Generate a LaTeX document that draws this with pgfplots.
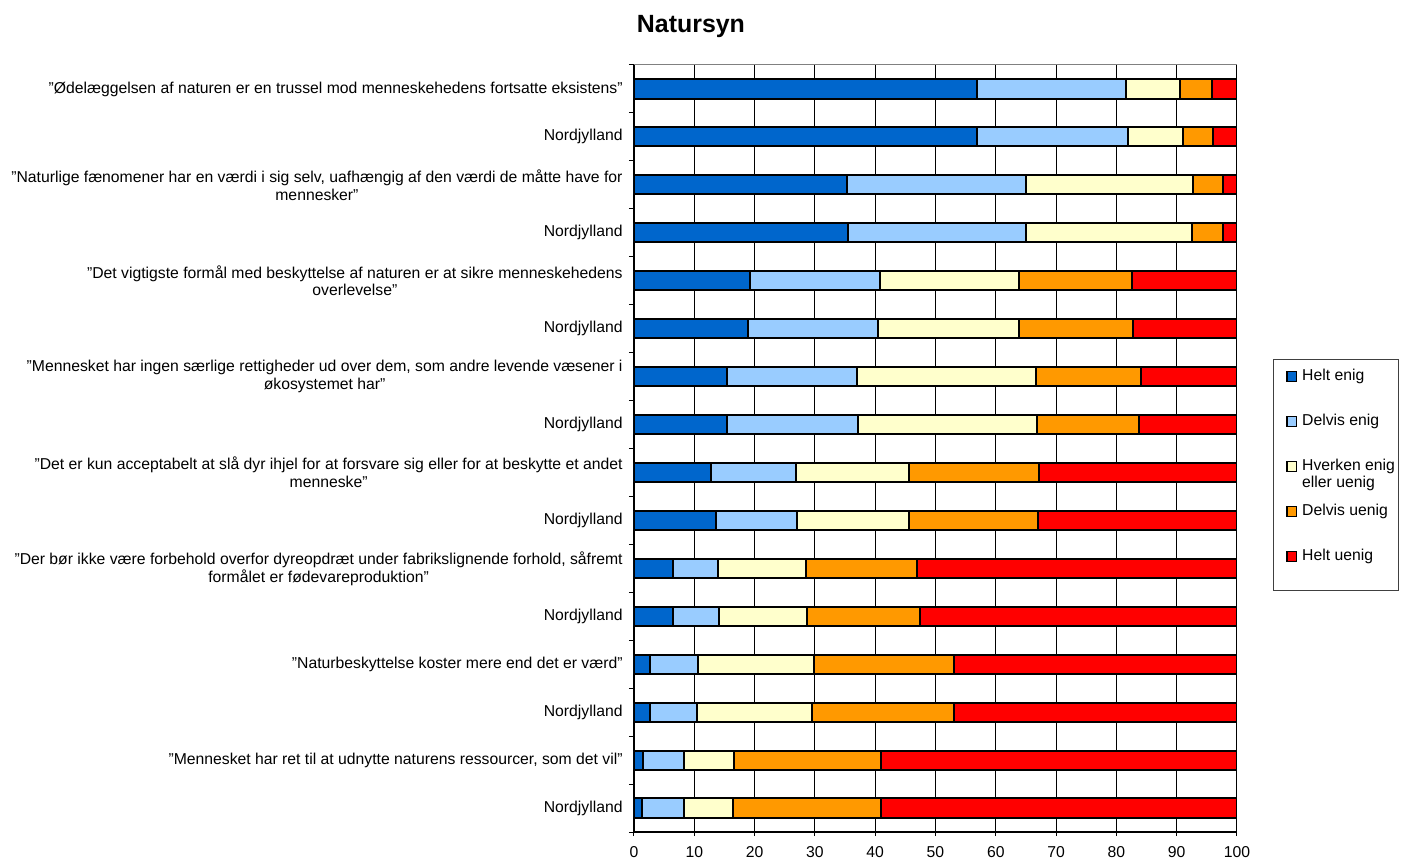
\documentclass[border=0pt]{standalone}
\usepackage{pgfplots}
\pgfplotsset{compat=1.18}
\usepackage{pgfplotstable}
\usepackage{fontspec}
\setmainfont{Liberation Sans}
\usetikzlibrary{calc}

\definecolor{c1}{HTML}{0066CC}
\definecolor{c2}{HTML}{99CCFF}
\definecolor{c3}{HTML}{FFFFCC}
\definecolor{c4}{HTML}{FF9900}
\definecolor{c5}{HTML}{FF0000}

\pgfplotstableread{
y a b c d e
15 56.8 24.8 9.0 5.3 4.1
14 56.8 25.1 9.2 5.0 3.9
13 35.3 29.7 27.7 4.9 2.4
12 35.5 29.5 27.5 5.1 2.4
11 19.2 21.6 23.1 18.7 17.4
10 18.9 21.6 23.4 18.8 17.3
9 15.5 21.5 29.7 17.4 15.9
8 15.4 21.7 29.7 17.0 16.2
7 12.8 14.0 18.8 21.6 32.8
6 13.6 13.4 18.6 21.4 33.0
5 6.4 7.6 14.6 18.4 53.0
4 6.4 7.7 14.6 18.7 52.6
3 2.6 8.0 19.2 23.3 46.9
2 2.6 7.9 19.1 23.5 46.9
1 1.5 6.8 8.3 24.3 59.1
0 1.4 6.9 8.2 24.4 59.1
}\data

\newcommand\lf{\fontsize{7.9}{9}\selectfont}

\begin{document}
\begin{tikzpicture}
\begin{axis}[
  name=ax,
  scale only axis, width=301.5bp, height=383.5bp,
  xbar stacked, bar width=0.4,
  xmin=0, xmax=100, ymin=-0.5, ymax=15.5,
  axis x line*=bottom, axis y line*=left,
  axis line style={black, line width=0.6bp},
  xtick={0,10,...,100},
  xmajorgrids, grid style={black, line width=0.5bp},
  ytick={0,...,15},
  minor ytick={-0.5,0.5,...,15.5},
  major y tick style={draw=none},
  tick align=outside, major tick length=2bp, minor tick length=2.5bp,
  tick style={black, line width=0.5bp},
  /pgf/number format/assume math mode=true,
  ticklabel style={font=\lf},
  xticklabel style={inner sep=0pt, yshift=-5bp},
  yticklabel style={align=center, inner sep=0pt, xshift=-3.5bp},
  yticklabels={
    Nordjylland,
    {”Mennesket har ret til at udnytte naturens ressourcer, som det vil”},
    Nordjylland,
    {”Naturbeskyttelse koster mere end det er værd”},
    Nordjylland,
    {”Der bør ikke være forbehold overfor dyreopdræt under fabrikslignende forhold, såfremt\\formålet er fødevareproduktion”},
    Nordjylland,
    {”Det er kun acceptabelt at slå dyr ihjel for at forsvare sig eller for at beskytte et andet\\menneske”},
    Nordjylland,
    {”Mennesket har ingen særlige rettigheder ud over dem, som andre levende væsener i\\økosystemet har”},
    Nordjylland,
    {”Det vigtigste formål med beskyttelse af naturen er at sikre menneskehedens\\overlevelse”},
    Nordjylland,
    {”Naturlige fænomener har en værdi i sig selv, uafhængig af den værdi de måtte have for\\mennesker”},
    Nordjylland,
    {”Ødelæggelsen af naturen er en trussel mod menneskehedens fortsatte eksistens”}
  },
  every axis title/.style={at={(0.0945,1)}, anchor=base, yshift=16bp,
    font=\bfseries\fontsize{12.5}{14}\selectfont},
  title={Natursyn},
  every axis plot/.append style={draw=black, line width=1bp},
  legend image code/.code={\draw[#1, draw=black, line width=0.6bp] (0bp,-2.4bp) rectangle (4.8bp,2.4bp);},
  legend style={draw=none, fill=none, at={(1,1)}, anchor=north west,
    xshift=24.5bp, yshift=-151.75bp, inner sep=0pt, row sep=15bp, column sep=2.5bp,
    nodes={inner sep=0pt, text height=6bp, text depth=1.5bp, font=\lf},
    cells={anchor=west}},
]
\addplot[fill=c1] table[x=a, y=y]{\data};
\addplot[fill=c2] table[x=b, y=y]{\data};
\addplot[fill=c3] table[x=c, y=y]{\data};
\addplot[fill=c4] table[x=d, y=y]{\data};
\addplot[fill=c5] table[x=e, y=y]{\data};
\legend{Helt enig, Delvis enig,
  {\smash{\vtop{\baselineskip=8.5bp\hbox{Hverken enig}\hbox{eller uenig}}}},
  Delvis uenig, Helt uenig}
\end{axis}
\draw[gray, line width=0.5bp] (ax.north west) -- (ax.north east);
\draw[black!75, line width=0.5bp] ($(ax.north east)+(18bp,-147.5bp)$) rectangle ++(62.5bp,-115bp);
\pgfresetboundingbox
\path ($(ax.south west)+(-317bp,-15bp)$) rectangle ($(ax.north east)+(84bp,32.5bp)$);
\end{tikzpicture}
\end{document}
